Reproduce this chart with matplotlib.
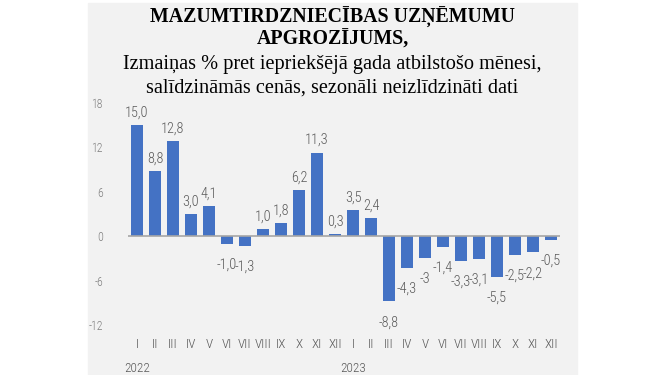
import matplotlib
matplotlib.use("Agg")
import matplotlib.pyplot as plt
from matplotlib import font_manager
import numpy as np

# Dati
menesi = ['I', 'II', 'III', 'IV', 'V', 'VI', 'VII', 'VIII', 'IX', 'X', 'XI', 'XII'] * 2
gadi = ['2022', '2023']
vertibas = [15.0, 8.8, 12.8, 3.0, 4.1, -1.0, -1.3, 1.0, 1.8, 6.2, 11.3, 0.3,
            3.5, 2.4, -8.8, -4.3, -3.0, -1.4, -3.3, -3.1, -5.5, -2.5, -2.2, -0.5]
etiketes = ['15,0', '8,8', '12,8', '3,0', '4,1', '-1,0', '-1,3', '1,0', '1,8', '6,2', '11,3', '0,3',
            '3,5', '2,4', '-8,8', '-4,3', '-3', '-1,4', '-3,3', '-3,1', '-5,5', '-2,5', '-2,2', '-0,5']
y_ticks = [-12, -6, 0, 6, 12, 18]

# šaurs fonts, ja tāds ir
fonti = font_manager.fontManager.ttflist
vardi = [f.name for f in fonti]
narrow, stiept = 'DejaVu Sans', 'normal'
for kand in ['Liberation Sans Narrow', 'Roboto Condensed', 'Open Sans Condensed']:
    if kand in vardi:
        narrow = kand
        break
else:
    for f in fonti:
        if 'ondensed' in str(f.stretch) or f.stretch in (300, 400) and 'Condensed' in f.fname:
            narrow, stiept = f.name, 'condensed'
            break
mazs = 10.3 if stiept == 'condensed' or narrow != 'DejaVu Sans' else 9
svars = 'light'

fona = '#f2f2f2'
krasa = '#4472c4'
teksts = '#595959'

fig = plt.figure(figsize=(6.65, 3.75), dpi=100)
fig.patches.append(plt.Rectangle((88 / 665, 0), (577 - 88) / 665, 1 - 3 / 375,
                                 transform=fig.transFigure, color=fona, zorder=-5))

ax = fig.add_axes([128 / 665, 1 - 325 / 375, (560 - 128) / 665, (325 - 103) / 375])
ax.set_facecolor('none')

x = np.arange(len(vertibas))
ax.bar(x, vertibas, width=0.68, color=krasa, zorder=2)
ax.axhline(0, color='#a6a6a6', lw=1.2, zorder=3)

stils = dict(family=narrow, stretch=stiept, weight=svars)
for xi, v, t in zip(x, vertibas, etiketes):
    if v >= 0:
        ax.annotate(t, (xi, v), xytext=(0, 4), textcoords='offset points', ha='center',
                    va='bottom', fontsize=mazs, color=teksts, **stils)
    else:
        ax.annotate(t, (xi, v), xytext=(0, -10), textcoords='offset points', ha='center',
                    va='top', fontsize=mazs, color=teksts, **stils)

ax.set_xlim(-0.5, len(vertibas) - 0.5)
ax.set_ylim(-12, 18)
ax.set_yticks(y_ticks)
ax.set_yticklabels([str(t) for t in y_ticks], fontsize=8.5, color='#7f7f7f', **stils)
ax.tick_params(axis='y', length=0, pad=18)
ax.set_xticks([])
for s in ax.spines.values():
    s.set_visible(False)

# mēneši un gadi zem grafika
for xi, m in zip(x, menesi):
    ax.annotate(m, (xi, -12), xytext=(0, -14), textcoords='offset points', ha='center',
                va='center', fontsize=9.5, color=teksts, **stils)
for i, g in enumerate(gadi):
    ax.annotate(g, (i * 12, -12), xytext=(0, -31), textcoords='offset points', ha='center',
                va='center', fontsize=9.5, color=teksts, **stils)

fig.text(0.5, 1 - 17 / 375, 'MAZUMTIRDZNIECĪBAS UZŅĒMUMU', ha='center', va='center',
         fontsize=14.3, fontweight='bold', family='Liberation Serif')
fig.text(0.5, 1 - 40 / 375, 'APGROZĪJUMS,', ha='center', va='center',
         fontsize=14.3, fontweight='bold', family='Liberation Serif')
fig.text(0.5, 1 - 64 / 375, 'Izmaiņas % pret iepriekšējā gada atbilstošo mēnesi,', ha='center',
         va='center', fontsize=14.6, family='Liberation Serif')
fig.text(0.5, 1 - 88 / 375, 'salīdzināmās cenās, sezonāli neizlīdzināti dati', ha='center',
         va='center', fontsize=14.6, family='Liberation Serif')

plt.savefig('out.png', dpi=100, facecolor='white')
